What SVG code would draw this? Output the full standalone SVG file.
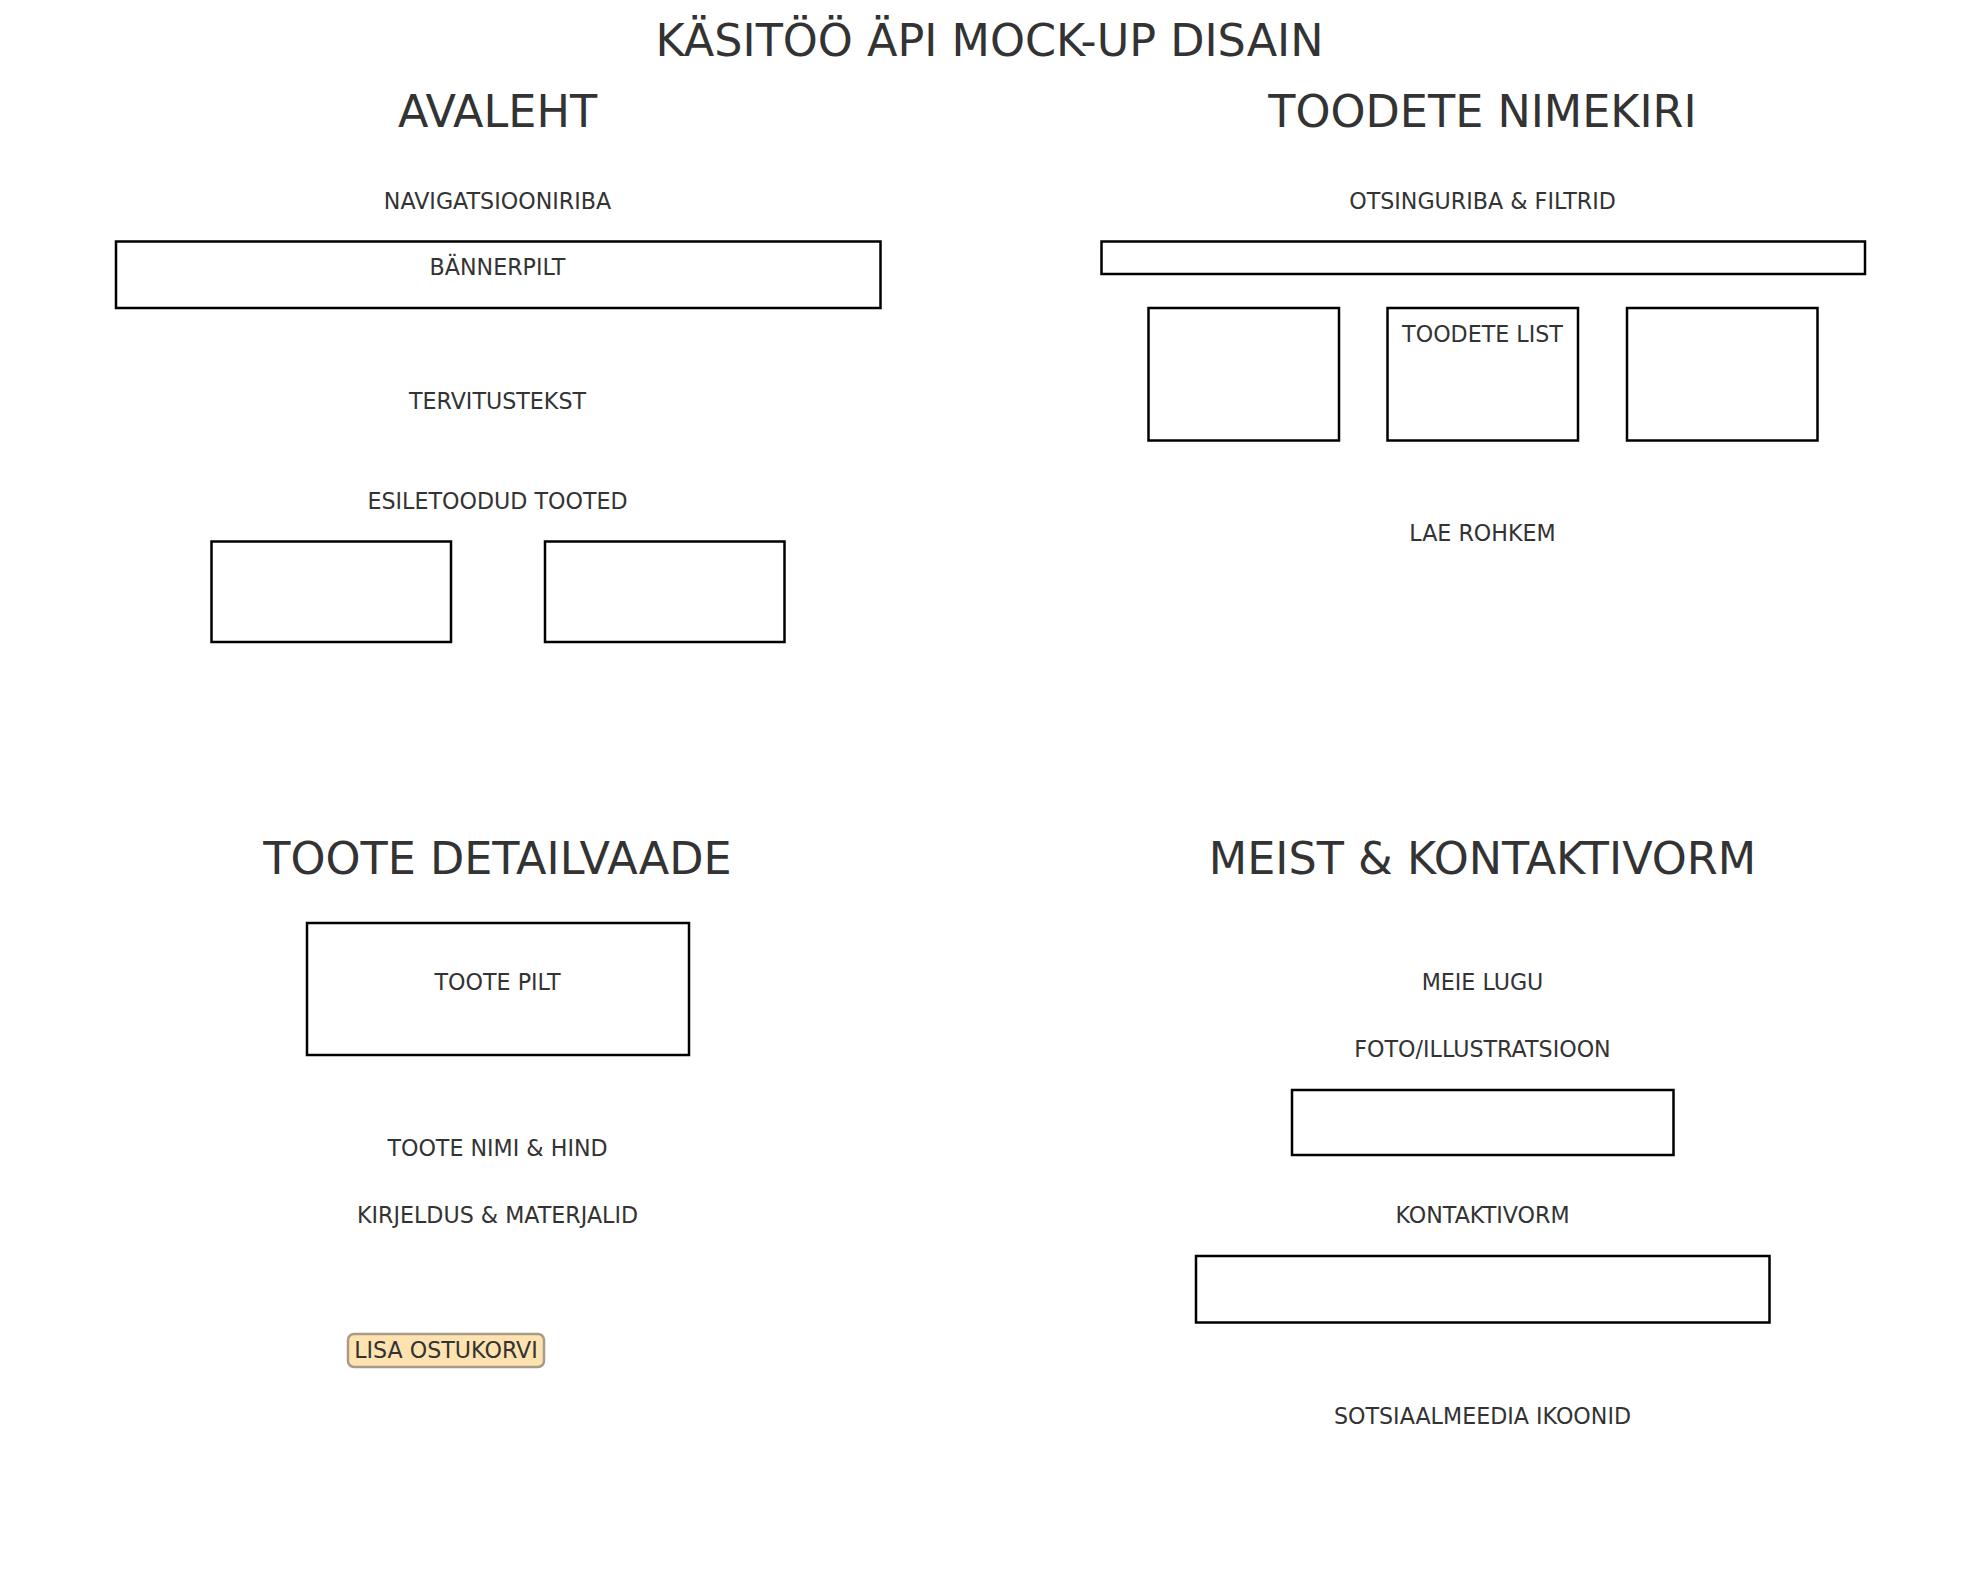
<svg xmlns="http://www.w3.org/2000/svg" width="1979" height="1577" viewBox="0 0 1979 1577">
  <style>
    text { font-family: "DejaVu Sans", Verdana, sans-serif; fill: #333333; text-anchor: middle; }
    .title { font-size: 44.5px; }
    .label { font-size: 22.2px; }
    .box { fill: none; stroke: #000000; stroke-width: 2.5; }
    .btn { fill: #FEE3B1; stroke: #A99B85; stroke-width: 2.5; }
  </style>
  <rect width="1979" height="1577" fill="#ffffff"/>

  <text id="main-title" class="title" x="989.5" y="56">KÄSITÖÖ ÄPI MOCK-UP DISAIN</text>

  <!-- Avaleht -->
  <g id="avaleht">
    <text class="title" x="497.5" y="127">AVALEHT</text>
    <text class="label" x="497.5" y="209">NAVIGATSIOONIRIBA</text>
    <g id="banner">
      <rect class="box" x="116" y="241.5" width="764.5" height="66.5"/>
      <text class="label" x="497.5" y="275">BÄNNERPILT</text>
    </g>
    <text class="label" x="497.5" y="409">TERVITUSTEKST</text>
    <text class="label" x="497.5" y="509">ESILETOODUD TOOTED</text>
    <rect id="featured-1" class="box" x="211.5" y="541.5" width="239.5" height="100.5"/>
    <rect id="featured-2" class="box" x="545" y="541.5" width="239.5" height="100.5"/>
  </g>

  <!-- Toodete nimekiri -->
  <g id="toodete-nimekiri">
    <text class="title" x="1482.5" y="127">TOODETE NIMEKIRI</text>
    <text class="label" x="1482.5" y="209">OTSINGURIBA &amp; FILTRID</text>
    <rect id="search-bar" class="box" x="1101.5" y="241.5" width="763.5" height="32.5"/>
    <rect id="product-1" class="box" x="1148.5" y="308" width="190.5" height="132.5"/>
    <g id="product-2">
      <rect class="box" x="1387.5" y="308" width="190.5" height="132.5"/>
      <text class="label" x="1482.5" y="342">TOODETE LIST</text>
    </g>
    <rect id="product-3" class="box" x="1627" y="308" width="190.5" height="132.5"/>
    <text class="label" x="1482.5" y="541">LAE ROHKEM</text>
  </g>

  <!-- Toote detailvaade -->
  <g id="toote-detailvaade">
    <text class="title" x="497.5" y="874">TOOTE DETAILVAADE</text>
    <g id="product-image">
      <rect class="box" x="307" y="923" width="382" height="132"/>
      <text class="label" x="497.5" y="989.5">TOOTE PILT</text>
    </g>
    <text class="label" x="497.5" y="1156">TOOTE NIMI &amp; HIND</text>
    <text class="label" x="497.5" y="1223">KIRJELDUS &amp; MATERJALID</text>
    <g id="add-to-cart">
      <rect class="btn" x="348" y="1334" width="196" height="33" rx="6" ry="6"/>
      <text class="label" x="446" y="1358">LISA OSTUKORVI</text>
    </g>
  </g>

  <!-- Meist & kontaktivorm -->
  <g id="meist-kontakt">
    <text class="title" x="1482.5" y="874">MEIST &amp; KONTAKTIVORM</text>
    <text class="label" x="1482.5" y="989.5">MEIE LUGU</text>
    <text class="label" x="1482.5" y="1057">FOTO/ILLUSTRATSIOON</text>
    <rect id="photo" class="box" x="1292" y="1090" width="381.5" height="65"/>
    <text class="label" x="1482.5" y="1223">KONTAKTIVORM</text>
    <rect id="contact-form" class="box" x="1196" y="1256" width="573.5" height="66.5"/>
    <text class="label" x="1482.5" y="1423.5">SOTSIAALMEEDIA IKOONID</text>
  </g>
</svg>
